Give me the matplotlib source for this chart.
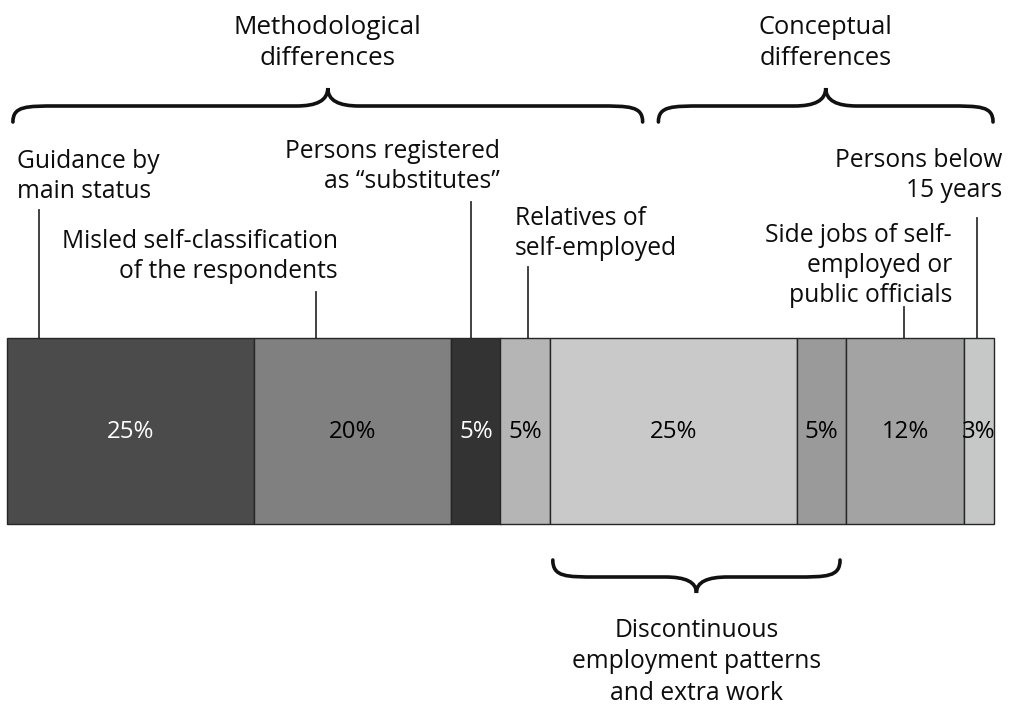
import numpy as np
import matplotlib.pyplot as plt
from matplotlib.path import Path
from matplotlib.patches import PathPatch

plt.rcParams['font.family'] = ['Open Sans', 'DejaVu Sans']

# shares of the gap, left to right
shares = [25, 20, 5, 5, 25, 5, 12, 3]
share_labels = ['25%', '20%', '5%', '5%', '25%', '5%', '12%', '3%']
seg_colors = ['#4b4b4b', '#808080', '#333333', '#b5b5b5',
              '#c9c9c9', '#9a9a9a', '#a3a3a3', '#c6c8c8']
label_colors = ['white', 'black', 'white', 'black',
                'black', 'black', 'black', 'black']

# callout texts above the bar and where their leader lines hit it (in %)
callouts = ['Guidance by\nmain status',
            'Misled self-classification\nof the respondents',
            'Persons registered\nas \u201csubstitutes\u201d',
            'Relatives of\nself-employed',
            'Side jobs of self-\nemployed or\npublic officials',
            'Persons below\n15 years']
callout_at = [3.2, 31.3, 47.0, 52.8, 90.9, 98.3]

# group braces: (start %, end %)
group_names = ['Methodological\ndifferences', 'Conceptual\ndifferences',
               'Discontinuous\nemployment patterns\nand extra work']
group_spans = [(0.6, 64.4), (66.0, 99.9), (55.3, 84.4)]

# page geometry: x in percent of the bar, y in pixels from the top
W, H = 1011, 705
x0_px, px_per_pct = 7, 9.87
def pct(px):
    return (px - x0_px) / px_per_pct

fig = plt.figure(figsize=(W / 100, H / 100), dpi=100)
ax = fig.add_axes([0, 0, 1, 1])
ax.set_xlim(pct(0), pct(W))
ax.set_ylim(H, 0)
ax.axis('off')

bar_top, bar_bot = 338, 524
left = np.concatenate([[0], np.cumsum(shares)[:-1]])
ax.barh((bar_top + bar_bot) / 2, shares, left=left, height=bar_bot - bar_top,
        color=seg_colors, edgecolor='#262626', linewidth=1.0, zorder=2)
for l, s, lab, c in zip(left, shares, share_labels, label_colors):
    ax.text(l + s / 2, (bar_top + bar_bot) / 2 + 1, lab, ha='center', va='center',
            fontsize=17.3, color=c, zorder=3)

# callout labels with leader lines
label_pos = [  # x (px), last baseline (px), alignment, leader start y (px)
    (17, 198, 'left', 210),
    (338, 278, 'right', 292),
    (500, 188, 'right', 202),
    (515, 255, 'left', 267),
    (952, 302, 'right', 307),
    (1002, 197, 'right', 218),
]
for txt, xa, (xp, yb, ha, ly) in zip(callouts, callout_at, label_pos):
    ax.text(pct(xp), yb, txt, ha=ha, va='baseline', multialignment=ha,
            fontsize=17.7, linespacing=1.25, color='#0d0d0d')
    ax.plot([xa, xa], [ly, bar_top], color='#333333', lw=1.3, zorder=1)


def brace(xa, xb, y_end, y_flat, y_tip, r=4.5, rt=3.2):
    xm = (xa + xb) / 2
    verts = [(xa, y_end),
             (xa, y_flat), (xa + r * 0.3, y_flat), (xa + r, y_flat),
             (xm - rt, y_flat),
             (xm - rt * 0.35, y_flat), (xm, y_flat - (y_flat - y_tip) * 0.3), (xm, y_tip),
             (xm, y_flat - (y_flat - y_tip) * 0.3), (xm + rt * 0.35, y_flat), (xm + rt, y_flat),
             (xb - r, y_flat),
             (xb - r * 0.3, y_flat), (xb, y_flat), (xb, y_end)]
    codes = [Path.MOVETO,
             Path.CURVE4, Path.CURVE4, Path.CURVE4,
             Path.LINETO,
             Path.CURVE4, Path.CURVE4, Path.CURVE4,
             Path.CURVE4, Path.CURVE4, Path.CURVE4,
             Path.LINETO,
             Path.CURVE4, Path.CURVE4, Path.CURVE4]
    ax.add_patch(PathPatch(Path(verts, codes), fill=False, lw=2.6,
                           edgecolor='#111111', capstyle='round'))
    return xm


# group braces and their captions (y = baseline of the last line)
brace_geom = [(122, 106, 88), (122, 106, 88), (560, 577, 593)]
caption_base = [65, 65, 700]
caption_size = [18.8, 18.3, 17.7]
caption_spacing = [1.3, 1.3, 1.35]
for name, (xa, xb), (ye, yf, yt), cb, fs, ls in zip(group_names, group_spans, brace_geom,
                                                     caption_base, caption_size,
                                                     caption_spacing):
    xm = brace(xa, xb, ye, yf, yt)
    ax.text(xm, cb, name, ha='center', va='baseline', multialignment='center',
            fontsize=fs, linespacing=ls, color='#0d0d0d')

fig.savefig('out.png', dpi=100, facecolor='white')
